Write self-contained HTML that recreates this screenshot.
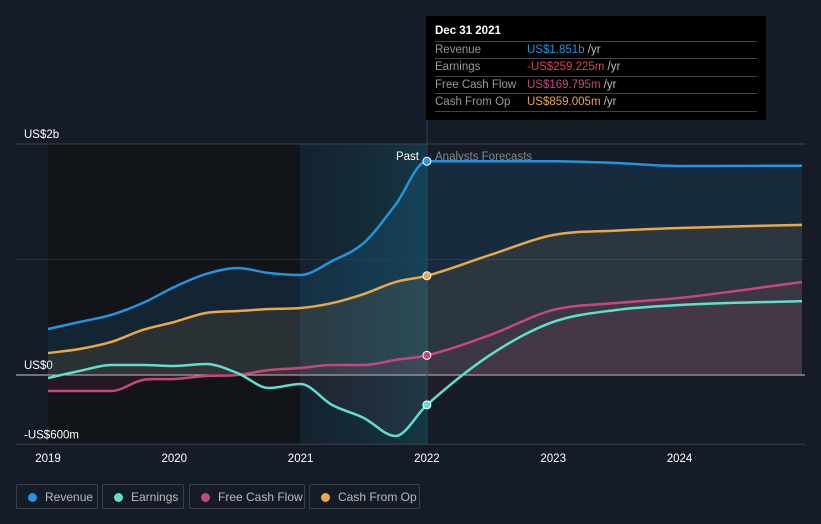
<!DOCTYPE html>
<html><head><meta charset="utf-8"><style>
body{margin:0;background:#151b27;font-family:"Liberation Sans",sans-serif;}
#wrap{position:relative;width:821px;height:524px;overflow:hidden;background:#151b27;}
.tt{position:absolute;left:426px;top:16px;width:340px;height:104px;background:#000;color:#ccc;font-size:11.5px;}
.tt .h{position:absolute;left:9px;top:9px;color:#fff;font-weight:bold;font-size:11.5px;}
.tt .r{position:absolute;left:9px;width:322px;border-top:1px solid #444;height:17px;line-height:17px;color:#999;}
.tt .r span{position:absolute;left:92px;}
.leg{position:absolute;top:484px;height:25px;border:1px solid #3a404c;border-radius:2px;color:#bbb;font-size:12px;line-height:25px;box-sizing:border-box;}
.leg i{position:absolute;left:11px;top:8px;width:9px;height:9px;border-radius:50%;}
.leg b{font-weight:normal;position:absolute;left:28px;}
</style></head><body>
<div id="wrap">
<svg id="svg" width="821" height="524" style="position:absolute;left:0;top:0">
<defs>
<linearGradient id="hl" x1="0" x2="1" y1="0" y2="0"><stop offset="0" stop-color="#12303a" stop-opacity="0.35"/><stop offset="1" stop-color="#13414f" stop-opacity="0.75"/></linearGradient>
</defs>
<rect x="48" y="144" width="252" height="300" fill="#111419"/>
<rect x="300" y="144" width="127" height="300" fill="url(#hl)"/>
<g id="grid"></g><g id="areas"></g><g id="lines"></g><g id="dots"></g>
</svg>
<div class="tt">
<div class="h">Dec 31 2021</div>
<div class="r" style="top:25px">Revenue<span style="color:#2394df">US$1.851b <em style="font-style:normal;color:#bbb">/yr</em></span></div>
<div class="r" style="top:42px">Earnings<span style="color:#e64545">-US$259.225m <em style="font-style:normal;color:#bbb">/yr</em></span></div>
<div class="r" style="top:60px">Free Cash Flow<span style="color:#c8467e">US$169.795m <em style="font-style:normal;color:#bbb">/yr</em></span></div>
<div class="r" style="top:77px;border-bottom:1px solid #444">Cash From Op<span style="color:#e8a84b">US$859.005m <em style="font-style:normal;color:#bbb">/yr</em></span></div>
</div>
<div class="leg" style="left:16px;width:82px"><i style="background:#2394df"></i><b>Revenue</b></div>
<div class="leg" style="left:102px;width:82px"><i style="background:#5ee0cc"></i><b>Earnings</b></div>
<div class="leg" style="left:189px;width:116px"><i style="background:#c8467e"></i><b>Free Cash Flow</b></div>
<div class="leg" style="left:309px;width:111px"><i style="background:#e8a84b"></i><b>Cash From Op</b></div>
</div>
<script>
const years=[2019,2019.25,2019.5,2019.75,2020,2020.25,2020.5,2020.75,2021,2021.25,2021.5,2021.75,2022,2022.5,2023,2023.5,2024,2024.97];
const revenue=[398,459,520,623,762,874,926,883,866,987,1143,1472,1851,1851,1851,1835,1810,1812];
const cashFromOp=[190,225,286,390,459,537,554,571,580,623,701,805,859,1039,1212,1250,1273,1300];
const earnings=[-26,35,87,87,78,95,17,-113,-78,-260,-372,-528,-259,173,459,563,606,640];
const fcf=[-139,-139,-139,-43,-35,-9,0,43,61,87,87,130,170,346,563,623,667,805];
const yTicks=[2000,1000,0,-600];
const yTickLabels=["US$2b","","US$0","-US$600m"];
const xTicks=[2019,2020,2021,2022,2023,2024];
const X=v=>48+(v-2019)*126.3;
const Y=v=>375-v*0.1155;
const NS="http://www.w3.org/2000/svg";
function mk(tag,attrs,parent){const e=document.createElementNS(NS,tag);for(const k in attrs)e.setAttribute(k,attrs[k]);document.getElementById(parent).appendChild(e);return e;}
function path(xs,ys){
  const n=xs.length,d=[],m=[];
  for(let i=0;i<n-1;i++)d.push((ys[i+1]-ys[i])/(xs[i+1]-xs[i]));
  m[0]=d[0];m[n-1]=d[n-2];
  for(let i=1;i<n-1;i++){m[i]=(d[i-1]*d[i]<=0)?0:(d[i-1]+d[i])/2;}
  let s="M"+xs[0]+","+ys[0];
  for(let i=0;i<n-1;i++){const h=(xs[i+1]-xs[i])/3;s+=" C"+(xs[i]+h)+","+(ys[i]+m[i]*h)+" "+(xs[i+1]-h)+","+(ys[i+1]-m[i+1]*h)+" "+xs[i+1]+","+ys[i+1];}
  return s;
}
yTicks.forEach((t,i)=>{
  const l=mk('line',{x1:16,x2:805,y1:Y(t),y2:Y(t),stroke:t===0?'#ccc':(i===1?'#2a303b':'#3a404c'),'stroke-width':1},'grid');
  
  if(yTickLabels[i]){const tx=mk('text',{x:24,y:Y(t)-6,fill:'#fff','font-size':11.5},'grid');tx.textContent=yTickLabels[i];
  }
});
xTicks.forEach(t=>{
  const tx=mk('text',{x:X(t),y:462,fill:'#fff','font-size':11.5,'text-anchor':'middle'},'grid');tx.textContent=t;
  
});
const pl=mk('line',{x1:427,x2:427,y1:16,y2:444,stroke:'#1f4a5a','stroke-width':1},'grid');

const pt=mk('text',{x:419,y:160,fill:'#fff','font-size':11.5,'text-anchor':'end'},'grid');pt.textContent='Past';

const ft=mk('text',{x:435,y:160,fill:'#888','font-size':11.5},'grid');ft.textContent='Analysts Forecasts';

const series=[["revenue",revenue,"#2394df","rgba(35,148,223,0.13)"],["cash-from-op",cashFromOp,"#e8a84b","rgba(232,168,75,0.10)"],["free-cash-flow",fcf,"#c8467e","rgba(200,70,126,0.10)"],["earnings",earnings,"#5ee0cc","rgba(200,70,90,0.07)"]];
const xs=years.map(X);
series.forEach(([n,vals,c,f])=>{
  const ys=vals.map(Y);const p=path(xs,ys);
  const a=mk('path',{d:p+" L"+xs[xs.length-1]+","+Y(0)+" L"+xs[0]+","+Y(0)+" Z",fill:f},'areas');
  
  const l=mk('path',{d:p,fill:'none',stroke:c,'stroke-width':2.5},'lines');
  
  const i=years.indexOf(2022);
  const d=mk('circle',{cx:xs[i],cy:ys[i],r:4,fill:c,stroke:'#fff','stroke-width':1},'dots');
  
});
</script>
</body></html>
